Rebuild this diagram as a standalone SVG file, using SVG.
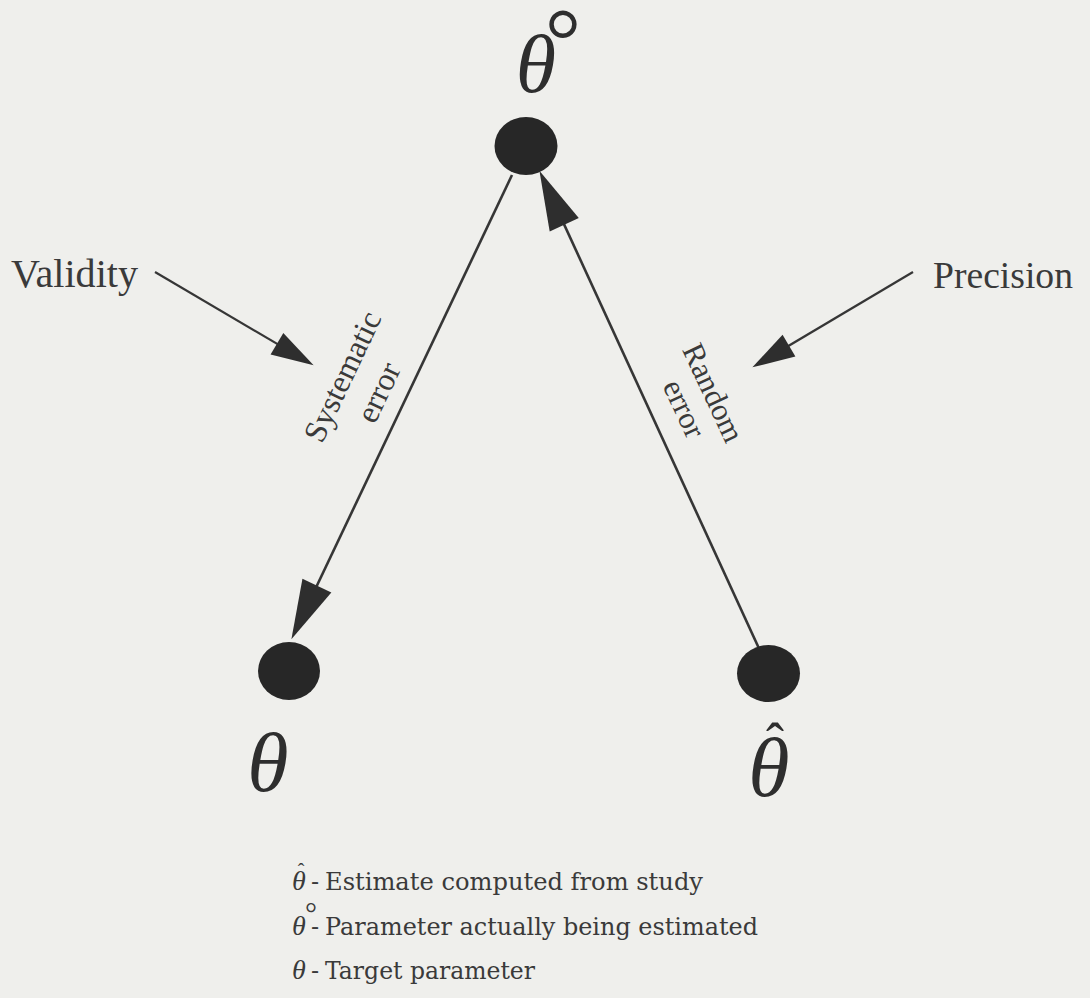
<svg xmlns="http://www.w3.org/2000/svg" width="1090" height="998" viewBox="0 0 1090 998">
  <style>
    .bg { fill: #efefec; }
    .node { fill: #272727; }
    .conn { stroke: #363636; fill: none; stroke-linecap: butt; }
    .main { stroke-width: 2.6; }
    .thin { stroke-width: 2.2; }
    .sym { font-family: "Liberation Serif", "Times New Roman", serif; font-style: italic; fill: #2e2e2e; }
    .lab { font-family: "Liberation Serif", "Times New Roman", serif; fill: #3a3a3a; }
    .leg { font-family: "DejaVu Serif", "Liberation Serif", serif; fill: #3a3a3a; font-size: 24px; }
    .legsym { font-family: "Liberation Serif", "Times New Roman", serif; font-style: italic; fill: #3a3a3a; font-size: 28px; }
  </style>
  <defs>
    <marker id="bigHead" markerUnits="userSpaceOnUse" orient="auto" refX="0" refY="0" markerWidth="80" markerHeight="80" viewBox="-50 -20 70 40" overflow="visible">
      <path d="M10,0 L-42,-14 L-42,14 Z" fill="#2e2e2e"/>
    </marker>
    <marker id="smallHead" markerUnits="userSpaceOnUse" orient="auto" refX="0" refY="0" markerWidth="60" markerHeight="60" viewBox="-40 -15 55 30" overflow="visible">
      <path d="M8,0 L-31,-11.5 L-31,11.5 Z" fill="#2e2e2e"/>
    </marker>
  </defs>
  <rect class="bg" x="0" y="0" width="1090" height="998"/>

  <g id="connectors">
    <line class="conn main" x1="512" y1="175" x2="296.3" y2="629.0" marker-end="url(#bigHead)"/>
    <line class="conn main" x1="762" y1="655" x2="544.2" y2="181.1" marker-end="url(#bigHead)"/>
    <line class="conn thin" x1="155" y1="272" x2="306.1" y2="360.9" marker-end="url(#smallHead)"/>
    <line class="conn thin" x1="913" y1="272" x2="759.9" y2="362.9" marker-end="url(#smallHead)"/>
    <text class="lab" font-size="32" text-anchor="middle" transform="translate(352,381) rotate(-64.6)">Systematic</text>
    <text class="lab" font-size="32" text-anchor="middle" transform="translate(388,397) rotate(-64.6)">error</text>
    <text class="lab" font-size="31" text-anchor="middle" transform="translate(704,397) rotate(65)">Random</text>
    <text class="lab" font-size="31" text-anchor="middle" transform="translate(675,413) rotate(65)">error</text>
  </g>

  <g id="node-theta-circ">
    <ellipse class="node" cx="526" cy="146" rx="31.5" ry="29"/>
    <text class="sym" x="536" y="92" font-size="82" text-anchor="middle">θ<tspan x="545" y="71" font-style="normal" font-size="90" text-anchor="start">°</tspan></text>
  </g>

  <g id="node-theta">
    <ellipse class="node" cx="289" cy="671" rx="31" ry="29"/>
    <text class="sym" x="268" y="791" font-size="84" text-anchor="middle">θ</text>
  </g>

  <g id="node-theta-hat">
    <ellipse class="node" cx="768.5" cy="673.5" rx="31.5" ry="28.5"/>
    <text class="sym" x="769" y="796" font-size="84" text-anchor="middle">θ<tspan x="775" y="761" font-style="normal" font-size="54" text-anchor="middle">ˆ</tspan></text>
  </g>

  <g id="validity">
    <text class="lab" x="11" y="287" font-size="39" textLength="127" lengthAdjust="spacingAndGlyphs">Validity</text>
  </g>

  <g id="precision">
    <text class="lab" x="933" y="288" font-size="38" textLength="140" lengthAdjust="spacingAndGlyphs">Precision</text>
  </g>

  <g id="legend">
    <text class="legsym" x="292" y="890">θ<tspan x="301" y="878" font-style="normal" font-size="20" text-anchor="middle">ˆ</tspan><tspan class="leg" x="311" y="890" font-style="normal">-</tspan></text>
    <text class="leg" x="325" y="890" textLength="378" lengthAdjust="spacingAndGlyphs">Estimate computed from study</text>

    <text class="legsym" x="292" y="935">θ<tspan x="305" y="923" font-style="normal" font-size="30">°</tspan><tspan class="leg" x="311" y="935" font-style="normal">-</tspan></text>
    <text class="leg" x="325" y="935" textLength="433" lengthAdjust="spacingAndGlyphs">Parameter actually being estimated</text>

    <text class="legsym" x="292" y="979">θ<tspan class="leg" x="311" y="979" font-style="normal">-</tspan></text>
    <text class="leg" x="325" y="979" textLength="210" lengthAdjust="spacingAndGlyphs">Target parameter</text>
  </g>
</svg>
